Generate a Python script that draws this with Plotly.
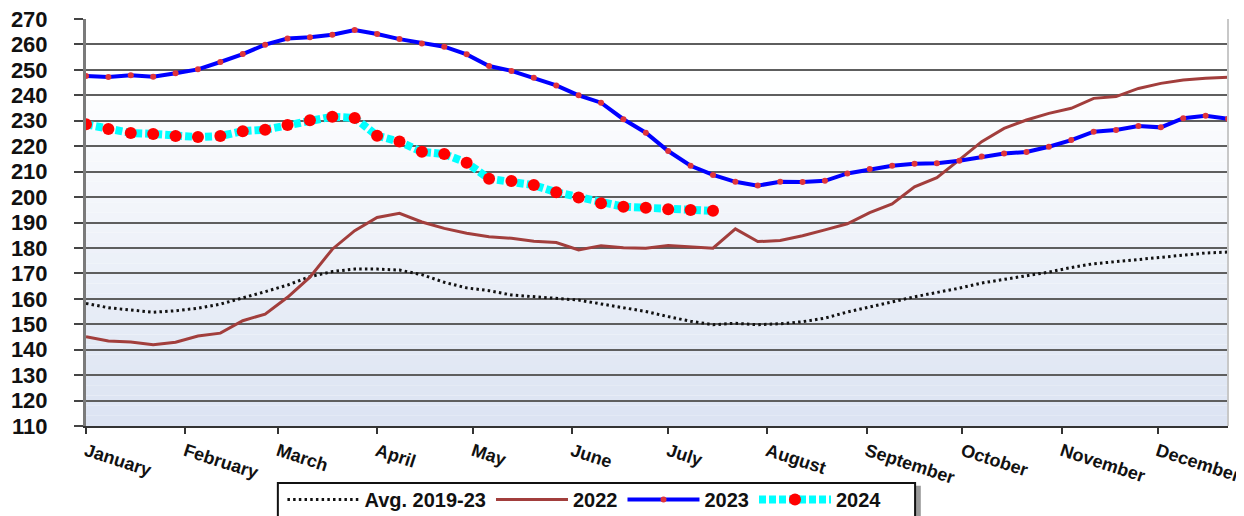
import pandas as pd
import plotly.graph_objects as go

# ---------------- data ----------------
weeks = pd.date_range("2024-01-01", periods=52, freq="7D")

avg_2019_23 = [158.2, 156.5, 155.6, 154.7, 155.3, 156.3, 157.9, 160.2, 162.8, 165.4,
               168.7, 170.7, 171.7, 171.7, 171.3, 169.5, 166.5, 164.3, 163.2, 161.5,
               160.9, 160.3, 159.5, 158.0, 156.5, 155.0, 153.0, 151.2, 149.8, 150.4,
               149.8, 150.2, 151.0, 152.4, 154.8, 156.8, 159.0, 160.8, 162.5, 164.2,
               166.2, 167.6, 169.0, 170.5, 172.3, 173.8, 174.6, 175.5, 176.3, 177.2,
               178.0, 178.4]

y2022 = [145.1, 143.4, 143.0, 141.9, 142.9, 145.4, 146.5, 151.4, 154.0, 160.6,
         168.5, 179.5, 186.8, 192.0, 193.6, 190.2, 187.7, 185.8, 184.4, 183.8,
         182.6, 182.1, 179.2, 180.9, 180.1, 179.9, 181.0, 180.5, 179.9, 187.5,
         182.5, 182.9, 184.8, 187.1, 189.5, 193.9, 197.3, 204.0, 207.6, 214.6,
         221.8, 227.0, 230.3, 232.9, 234.9, 238.8, 239.5, 242.7, 244.7, 246.0,
         246.7, 247.1]

y2023 = [247.6, 247.2, 247.9, 247.3, 248.7, 250.2, 253.1, 256.2, 259.9, 262.3,
         262.8, 263.8, 265.7, 264.1, 262.1, 260.4, 259.1, 256.1, 251.5, 249.6,
         246.9, 243.9, 240.0, 237.1, 230.6, 225.3, 218.1, 212.3, 208.7, 206.0,
         204.5, 206.0, 205.9, 206.4, 209.3, 211.0, 212.3, 213.1, 213.3, 214.3,
         215.9, 217.1, 217.7, 219.8, 222.4, 225.7, 226.4, 227.9, 227.4, 231.0,
         232.0, 230.8]

y2024 = [228.6, 226.8, 225.2, 224.8, 224.0, 223.6, 224.0, 225.9, 226.5, 228.3,
         230.2, 231.6, 231.1, 224.1, 221.8, 217.8, 216.9, 213.5, 207.2, 206.3,
         204.7, 201.9, 199.8, 197.6, 196.2, 195.8, 195.2, 194.9, 194.6]

month_labels = ["January", "February", "March", "April", "May", "June",
                "July", "August", "September", "October", "November", "December"]
month_starts = pd.date_range("2024-01-01", periods=12, freq="MS")

y_ticks = list(range(110, 271, 10))

# ---------------- figure ----------------
fig = go.Figure()

# gradient plot background (white at top -> light blue at bottom)
n_bands = 40
top_c = (255, 255, 255)
bot_c = (219, 227, 242)
for i in range(n_bands):
    f0 = i / n_bands
    f1 = (i + 1) / n_bands
    t = 1 - (f0 + f1) / 2          # 0 at top, 1 at bottom
    t = max(0.0, (t - 0.15) / 0.85)
    c = tuple(int(round(top_c[k] + (bot_c[k] - top_c[k]) * t)) for k in range(3))
    fig.add_shape(type="rect", xref="x domain", yref="y domain",
                  x0=0, x1=1, y0=f0, y1=f1, layer="below",
                  line=dict(width=0), fillcolor="rgb(%d,%d,%d)" % c)

fig.add_trace(go.Scatter(
    x=weeks, y=avg_2019_23, name="Avg. 2019-23", mode="lines",
    line=dict(color="#111111", width=3, dash="2.5px,3.2px")))

fig.add_trace(go.Scatter(
    x=weeks, y=y2022, name="2022", mode="lines",
    line=dict(color="#a23e3c", width=3)))

fig.add_trace(go.Scatter(
    x=weeks, y=y2023, name="2023", mode="lines+markers",
    line=dict(color="#0000ff", width=4),
    marker=dict(color="#e0353a", size=6)))

fig.add_trace(go.Scatter(
    x=weeks[:len(y2024)], y=y2024, name="2024", mode="lines+markers",
    line=dict(color="#00ffff", width=8, dash="7px,3px"),
    marker=dict(color="#ff0000", size=12)))

# right border of plot area
fig.add_shape(type="line", xref="x domain", yref="y domain",
              x0=1, x1=1, y0=0, y1=1, line=dict(color="#c8c8c8", width=2))

# legend frame with drop shadow
fig.add_shape(type="rect", xref="paper", yref="paper",
              x0=0.171, x1=0.731, y0=-0.40, y1=-0.147, layer="below",
              line=dict(width=0), fillcolor="#9a9a9a")
fig.add_shape(type="rect", xref="paper", yref="paper",
              x0=0.168, x1=0.726, y0=-0.40, y1=-0.140, layer="below",
              line=dict(color="#111111", width=2), fillcolor="white")

fig.update_layout(
    width=1236, height=508,
    margin=dict(l=78, r=16, t=11, b=90),
    paper_bgcolor="white", plot_bgcolor="white",
    showlegend=True,
    legend=dict(orientation="h", xref="paper", x=0.172, xanchor="left",
                yref="container", y=0.071, yanchor="top",
                borderwidth=0, bgcolor="rgba(0,0,0,0)",
                font=dict(family="Liberation Sans", size=20, color="#111111",
                          weight="bold"),
                itemwidth=72, tracegroupgap=0),
    font=dict(family="Liberation Sans", color="#111111"),
)

fig.update_xaxes(
    range=[weeks[0], weeks[-1]],
    tickvals=month_starts, ticktext=month_labels,
    tickangle=18, ticklabeloverflow="allow",
    tickfont=dict(family="Liberation Sans", size=18, weight="bold", color="#111111"),
    ticks="outside", ticklen=6, tickwidth=2, tickcolor="#333333",
    showgrid=False, showline=True, linecolor="#333333", linewidth=2,
    zeroline=False, automargin=False,
)

fig.update_yaxes(
    range=[110, 270], tickvals=y_ticks, ticklabeloverflow="allow",
    tickfont=dict(family="Liberation Sans", size=22, weight="bold", color="#111111"),
    ticks="outside", ticklen=9, tickwidth=2, tickcolor="#444444",
    ticklabelstandoff=22,
    showgrid=True, gridcolor="#5e5e5e", gridwidth=2,
    showline=True, linecolor="#7a7a7a", linewidth=3,
    zeroline=False, automargin=False,
)

fig.write_html("out.html")
